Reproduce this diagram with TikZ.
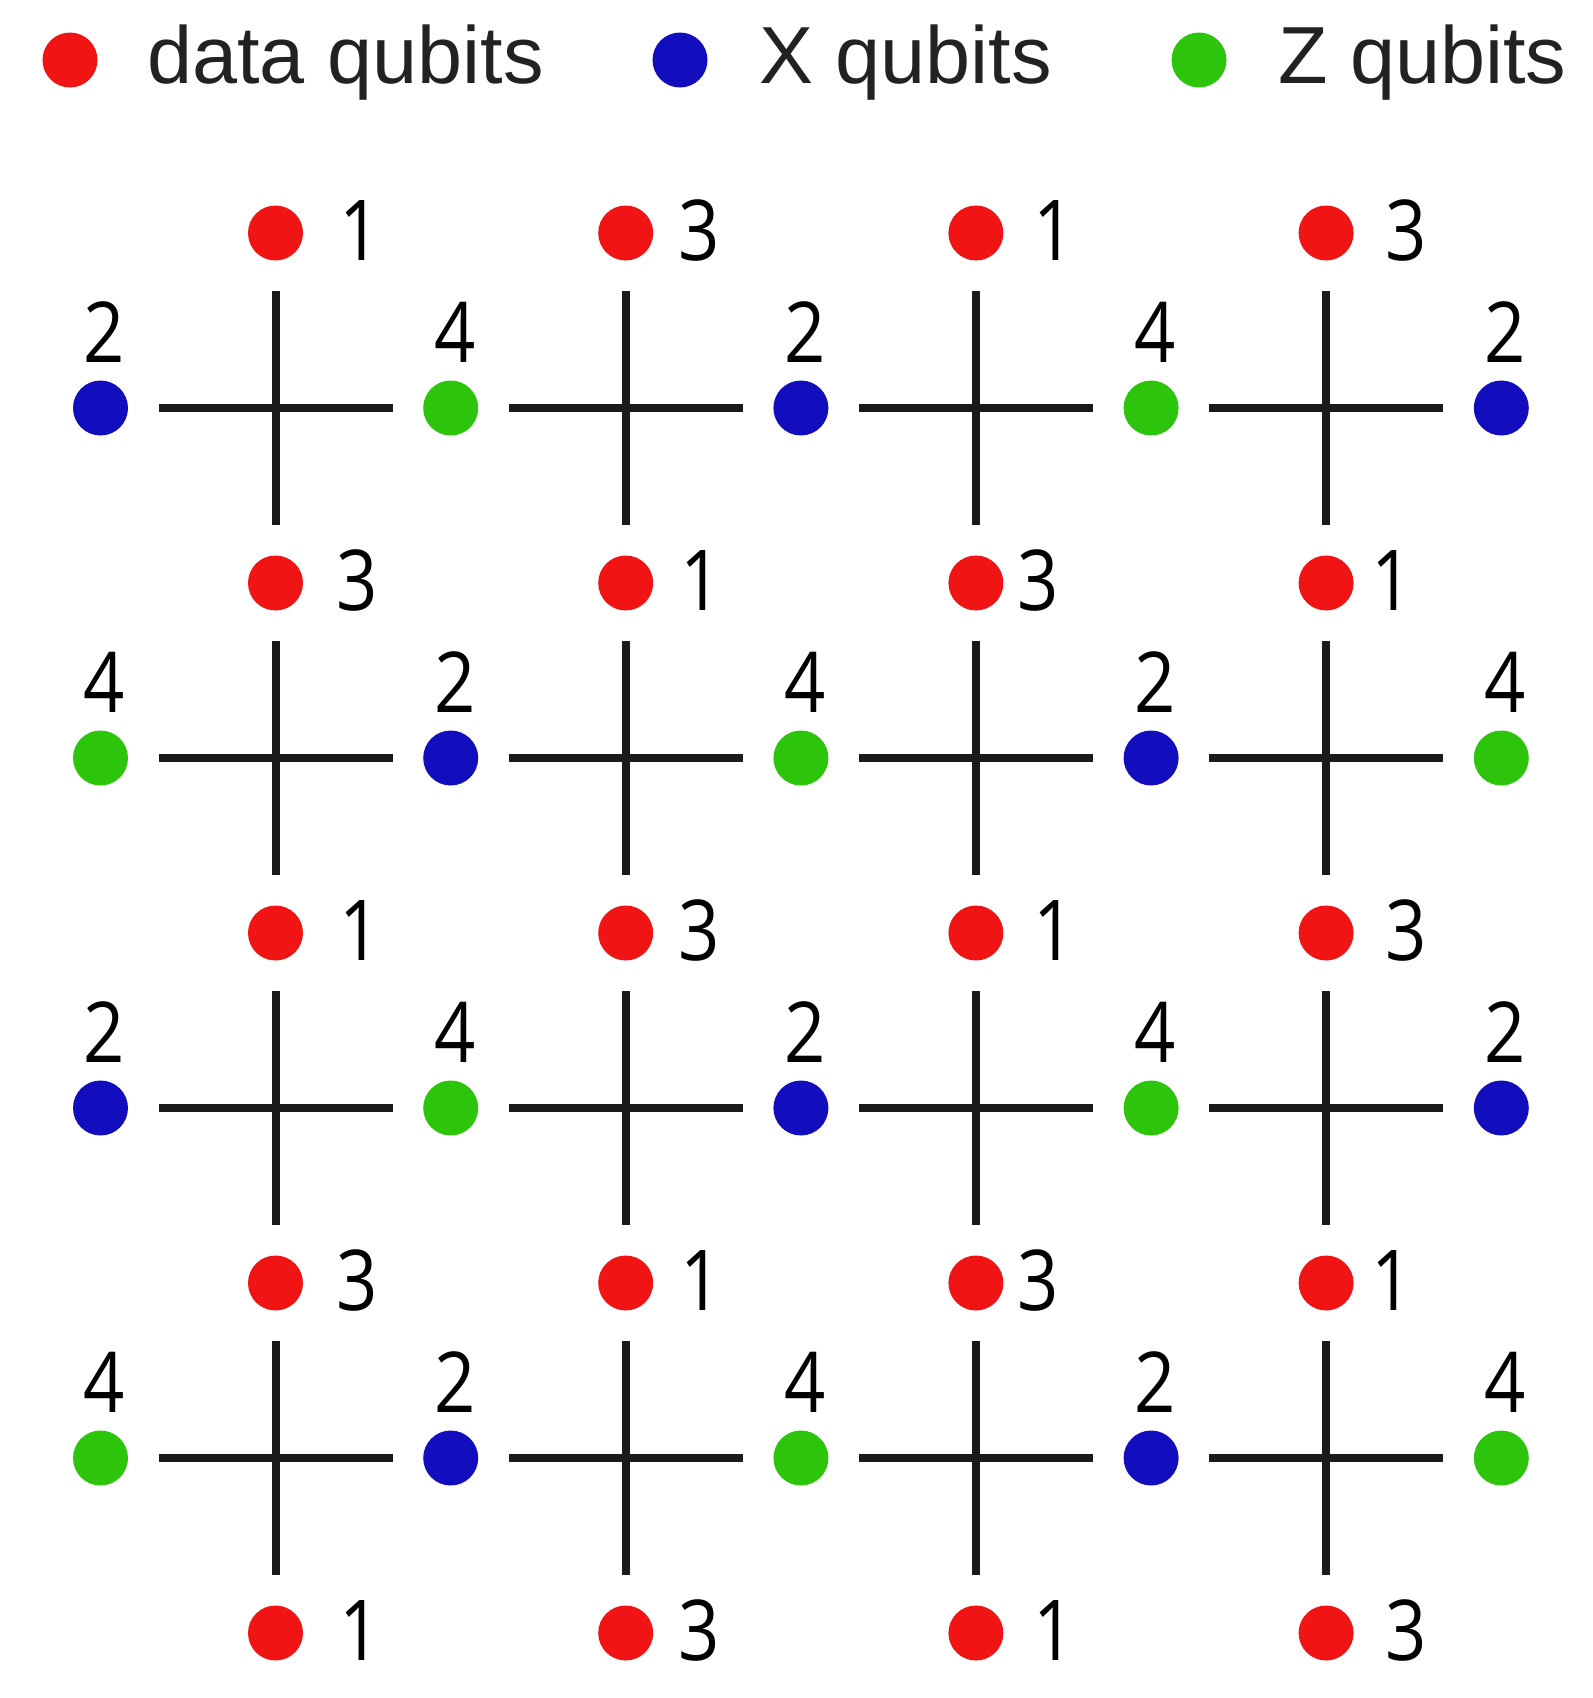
\documentclass[tikz,border=0pt]{standalone}
\usepackage{fontspec}
\setmainfont{Liberation Sans}
\newfontfamily\digitfont{Open Sans}
\definecolor{qred}{RGB}{240,20,20}
\definecolor{qblue}{RGB}{18,14,190}
\definecolor{qgreen}{RGB}{45,196,12}
\definecolor{linegray}{RGB}{26,26,26}
\definecolor{textgray}{RGB}{34,34,34}
\newcommand{\narrowdigit}[1]{\scalebox{0.86}[1]{#1}}
\begin{document}
\begin{tikzpicture}[x=0.5pt,y=-0.5pt]
\tikzset{
  qdot/.style={circle,inner sep=0pt,minimum size=27.5pt,draw=none},
  dataq/.style={qdot,fill=qred},
  xq/.style={qdot,fill=qblue},
  zq/.style={qdot,fill=qgreen},
  lbl/.style={anchor=base,inner sep=0pt,font=\digitfont\fontsize{42pt}{42pt}\selectfont},
  legendtext/.style={anchor=base west,inner sep=0pt,text=textgray,font=\fontsize{40.5pt}{40.5pt}\selectfont},
  crossline/.style={line width=4pt,draw=linegray}
}
\useasboundingbox (0,0) rectangle (1593,1698);
% legend
\node[dataq] (ld) at (70,60) {};
\node[legendtext] (lt1) at (147,83) {data qubits};
\node[xq] (lx) at (680,60) {};
\node[legendtext] (lt2) at (759,83) {X qubits};
\node[zq] (lz) at (1199,60) {};
\node[legendtext] (lt3) at (1278,83) {Z qubits};
% crosses
\foreach \a in {0,...,3}{
  \foreach \c in {0,...,3}{
    \pgfmathsetmacro\px{275.5+350.2*\c}
    \pgfmathsetmacro\py{408+350*\a}
    \coordinate (x-\a-\c) at (\px,\py);
    \draw[crossline] (x-\a-\c) ++(-117,0) -- ++(234,0);
    \draw[crossline] (x-\a-\c) ++(0,-117) -- ++(0,234);
  }
}
% data qubits
\foreach \r in {0,...,4}{
  \foreach \c in {0,...,3}{
    \pgfmathsetmacro\px{275.5+350.2*\c}
    \pgfmathsetmacro\py{233+350*\r}
    \pgfmathtruncatemacro\lab{mod(\r+\c,2)==0 ? 1 : 3}
    \ifodd\r
      \pgfmathsetmacro\dx{{82,75,62,66}[\c]}
    \else
      \pgfmathsetmacro\dx{{85,73,78,80}[\c]}
    \fi
    \node[dataq] (d-\r-\c) at (\px,\py) {};
    \node[lbl] (dl-\r-\c) at (\px+\dx,\py+27) {\narrowdigit{\lab}};
  }
}
% ancilla qubits
\foreach \a in {0,...,3}{
  \foreach \k in {0,...,4}{
    \pgfmathsetmacro\px{100.5+350.2*\k}
    \pgfmathsetmacro\py{408+350*\a}
    \pgfmathtruncatemacro\qpar{mod(\a+\k,2)}
    \ifnum\qpar=0
      \node[xq] (q-\a-\k) at (\px,\py) {};
      \node[lbl] (ql-\a-\k) at (\px+4,\py-46) {\narrowdigit{2}};
    \else
      \node[zq] (q-\a-\k) at (\px,\py) {};
      \node[lbl] (ql-\a-\k) at (\px+4,\py-46) {\narrowdigit{4}};
    \fi
  }
}
\end{tikzpicture}
\end{document}
